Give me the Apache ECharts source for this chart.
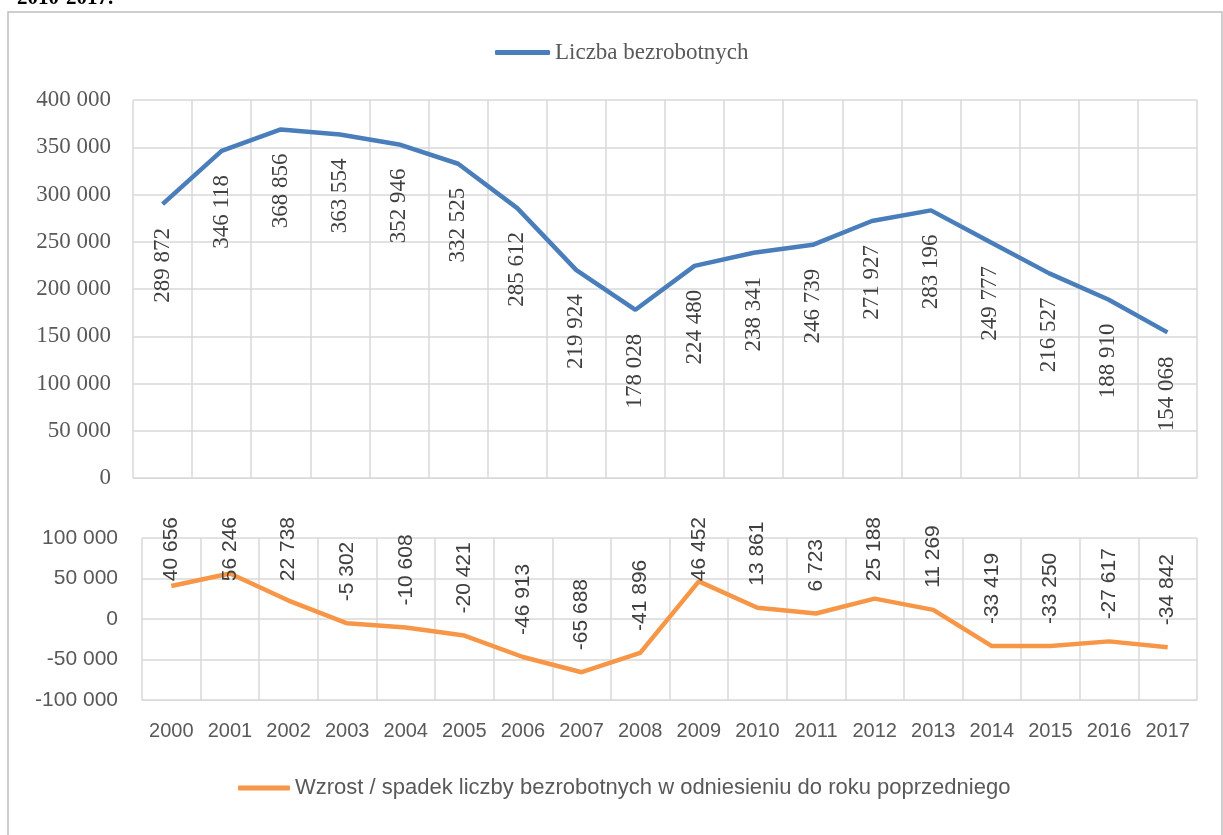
<!DOCTYPE html>
<html>
<head>
<meta charset="utf-8">
<title>Liczba bezrobotnych 2000-2017</title>
<script src="https://cdn.jsdelivr.net/npm/echarts@6/dist/echarts.min.js"></script>
<style>
  html, body { margin: 0; padding: 0; background: #fff; }
  #main { width: 1223px; height: 835px; }
</style>
</head>
<body>
<div id="main"></div>
<script>
// dane z wykresu
var years = ['2000', '2001', '2002', '2003', '2004', '2005', '2006', '2007', '2008',
             '2009', '2010', '2011', '2012', '2013', '2014', '2015', '2016', '2017'];
var unemployed = [289872, 346118, 368856, 363554, 352946, 332525, 285612, 219924, 178028,
                  224480, 238341, 246739, 271927, 283196, 249777, 216527, 188910, 154068];
var change = [40656, 56246, 22738, -5302, -10608, -20421, -46913, -65688, -41896,
              46452, 13861, 6723, 25188, 11269, -33419, -33250, -27617, -34842];
var nameTop = 'Liczba bezrobotnych';
var nameBottom = 'Wzrost / spadek liczby bezrobotnych w odniesieniu do roku poprzedniego';

var serif = '"Liberation Serif", "Times New Roman", serif';
var sans = '"Liberation Sans", Arial, sans-serif';
var gridColor = '#d9d9d9';

// 289872 -> "289 872"
function fmt(v) {
  return String(v).replace(/\B(?=(\d{3})+(?!\d))/g, ' ');
}

var option = {
  animation: false,
  backgroundColor: '#fff',
  graphic: [
    { // ramka wykresu
      type: 'rect',
      shape: { x: 8, y: 12, width: 1214, height: 840 },
      style: { fill: 'none', stroke: '#bfbfbf', lineWidth: 1.5 }
    },
    { // obciety tytul nad ramka
      type: 'text',
      left: 17, top: -12,
      style: { text: '2010-2017.', font: 'bold 21px ' + serif, fill: '#000' }
    }
  ],
  legend: [
    {
      data: [nameTop], left: 490, top: 36,
      icon: 'roundRect', itemWidth: 55, itemHeight: 5,
      textStyle: { fontFamily: serif, fontSize: 23, color: '#595959' }
    },
    {
      data: [nameBottom], left: 233, top: 772,
      icon: 'roundRect', itemWidth: 52, itemHeight: 5,
      textStyle: { fontFamily: sans, fontSize: 22, color: '#595959' }
    }
  ],
  grid: [
    { left: 133, right: 26, top: 100, height: 378 },
    { left: 142, right: 26, top: 538, height: 162 }
  ],
  xAxis: [
    {
      type: 'category', gridIndex: 0, data: years, boundaryGap: true,
      axisLine: { lineStyle: { color: gridColor } },
      axisTick: { show: false },
      axisLabel: { show: false },
      splitLine: { show: true, lineStyle: { color: gridColor, width: 1.5 } }
    },
    {
      type: 'category', gridIndex: 1, data: years, boundaryGap: true,
      axisLine: { onZero: false, lineStyle: { color: gridColor } },
      axisTick: { show: false },
      axisLabel: { fontFamily: sans, fontSize: 20, color: '#595959', margin: 21 },
      splitLine: { show: true, lineStyle: { color: gridColor, width: 1.5 } }
    }
  ],
  yAxis: [
    {
      type: 'value', gridIndex: 0, min: 0, max: 400000, interval: 50000,
      axisLine: { show: false }, axisTick: { show: false },
      axisLabel: { fontFamily: serif, fontSize: 23, color: '#595959', margin: 22, formatter: fmt },
      splitLine: { lineStyle: { color: gridColor, width: 1.5 } }
    },
    {
      type: 'value', gridIndex: 1, min: -100000, max: 100000, interval: 50000,
      axisLine: { show: false }, axisTick: { show: false },
      axisLabel: { fontFamily: sans, fontSize: 21, color: '#595959', margin: 24, formatter: fmt },
      splitLine: { lineStyle: { color: gridColor, width: 1.5 } }
    }
  ],
  series: [
    {
      name: nameTop, type: 'line', xAxisIndex: 0, yAxisIndex: 0,
      data: unemployed,
      symbol: 'circle', symbolSize: 0, showSymbol: true,
      itemStyle: { color: '#4a7ebb' },
      lineStyle: { color: '#4a7ebb', width: 4.5 },
      label: {
        show: true, position: 'bottom', distance: 24, rotate: 90,
        align: 'right', verticalAlign: 'middle',
        fontFamily: serif, fontSize: 23, color: '#404040',
        formatter: function (p) { return fmt(p.value); }
      }
    },
    {
      name: nameBottom, type: 'line', xAxisIndex: 1, yAxisIndex: 1,
      data: change,
      symbol: 'circle', symbolSize: 0, showSymbol: true,
      itemStyle: { color: '#f79646' },
      lineStyle: { color: '#f79646', width: 4.5 },
      label: {
        show: true, position: 'top', distance: 22, rotate: 90,
        align: 'left', verticalAlign: 'middle',
        fontFamily: sans, fontSize: 21, color: '#404040',
        formatter: function (p) { return fmt(p.value); }
      },
      // etykiety nie wychodza ponad obszar wykresu (jak w Excelu)
      labelLayout: function (params) {
        var r = params.labelRect;
        if (r.y < 517) {
          return { x: r.x + r.width / 2, y: 517 + r.height };
        }
        return {};
      }
    }
  ]
};

var myChart = echarts.init(document.getElementById('main'));
myChart.setOption(option);
</script>
</body>
</html>
